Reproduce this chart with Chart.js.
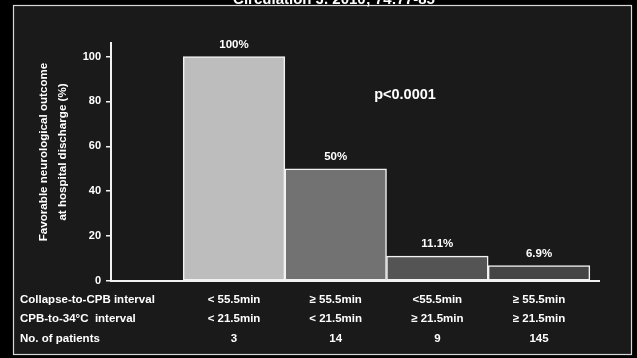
<!DOCTYPE html>
<html>
<head>
<meta charset="utf-8">
<title>Favorable neurological outcome</title>
<script src="https://cdn.jsdelivr.net/npm/chart.js@4/dist/chart.umd.min.js"></script>
<style>
  html, body { margin: 0; padding: 0; background: #000; }
  #wrap { width: 637px; height: 358px; }
</style>
</head>
<body>
<div id="wrap"><canvas id="outcome-chart" width="637" height="358"></canvas></div>
<script>
(function () {
  "use strict";

  var groups = [1, 2, 3, 4];
  var outcomePct = [100, 50, 11.1, 6.9];
  var pctLabels = ["100%", "50%", "11.1%", "6.9%"];
  var collapseRow = ["< 55.5min", "\u2265 55.5min", "<55.5min", "\u2265 55.5min"];
  var coolingRow = ["< 21.5min", "< 21.5min", "\u2265 21.5min", "\u2265 21.5min"];
  var patientsRow = ["3", "14", "9", "145"];
  var rowTitles = ["Collapse-to-CPB interval", "CPB-to-34\u00b0C  interval", "No. of patients"];
  var yTicks = [0, 20, 40, 60, 80, 100];
  var barColors = ["#bdbdbd", "#727272", "#545454", "#454545"];

  var FONT = "'Liberation Sans', Arial, sans-serif";

  var backdrop = {
    id: "backdrop",
    beforeDraw: function (chart) {
      var ctx = chart.ctx;
      ctx.save();
      ctx.fillStyle = "#000";
      ctx.fillRect(0, 0, chart.width, chart.height);
      ctx.fillStyle = "#1a1a1a";
      ctx.fillRect(13, 5, 619, 350);
      ctx.strokeStyle = "#d8d8d8";
      ctx.lineWidth = 1.2;
      ctx.strokeRect(13.5, 5.5, 618, 349);
      // journal citation, cut at the top edge
      ctx.fillStyle = "#fff";
      ctx.font = "bold 15px " + FONT;
      ctx.textAlign = "center";
      ctx.textBaseline = "alphabetic";
      ctx.fillText("Circulation J. 2010; 74:77-85", 334, 4);
      ctx.restore();
    },
  };

  var annotations = {
    id: "annotations",
    afterDraw: function (chart) {
      var ctx = chart.ctx;
      var x = chart.scales.x;
      var y = chart.scales.y;
      ctx.save();
      ctx.fillStyle = "#fff";
      ctx.textAlign = "center";
      ctx.textBaseline = "middle";
      ctx.font = "bold 11.5px " + FONT;
      for (var i = 0; i < groups.length; i++) {
        var cx = x.getPixelForValue(groups[i]);
        ctx.fillText(pctLabels[i], cx, y.getPixelForValue(outcomePct[i]) - 12);
        ctx.fillText(collapseRow[i], cx, 300);
        ctx.fillText(coolingRow[i], cx, 319);
        ctx.fillText(patientsRow[i], cx, 339);
      }
      ctx.textAlign = "left";
      ctx.fillText(rowTitles[0], 20, 300);
      ctx.fillText(rowTitles[1], 20, 319);
      ctx.fillText(rowTitles[2], 20, 339);

      ctx.textAlign = "center";
      ctx.font = "bold 14.5px " + FONT;
      ctx.fillText("p<0.0001", 405, 95);

      // rotated y title, two lines
      ctx.font = "bold 11.6px " + FONT;
      ctx.translate(53, 152);
      ctx.rotate(-Math.PI / 2);
      ctx.fillText("Favorable neurological outcome", 0, -9.5);
      ctx.fillText("at hospital discharge (%)", 0, 9.5);
      ctx.restore();
    },
  };

  new Chart(document.getElementById("outcome-chart"), {
    type: "bar",
    data: {
      datasets: [
        {
          data: groups.map(function (g, i) {
            return { x: g, y: outcomePct[i] };
          }),
          backgroundColor: barColors,
          borderColor: "#f2f2f2",
          borderWidth: 1.5,
          borderSkipped: false,
          barPercentage: 1,
          categoryPercentage: 1,
        },
      ],
    },
    options: {
      responsive: false,
      animation: false,
      events: [],
      layout: { padding: { top: 43, right: 38, left: 0, bottom: 0 } },
      plugins: {
        legend: { display: false },
        tooltip: { enabled: false },
      },
      scales: {
        x: {
          type: "linear",
          offset: false,
          min: -0.21,
          max: 4.59,
          afterBuildTicks: function (scale) {
            scale.ticks = groups.map(function (v) {
              return { value: v };
            });
          },
          grid: { display: false },
          ticks: { display: false },
          border: { color: "#f2f2f2", width: 2 },
          afterFit: function (scale) {
            scale.height = 77;
          },
        },
        y: {
          min: 0,
          max: 106,
          afterBuildTicks: function (scale) {
            scale.ticks = yTicks.map(function (v) {
              return { value: v };
            });
          },
          grid: {
            drawOnChartArea: false,
            color: "#f2f2f2",
            tickLength: 5,
            lineWidth: 1.5,
          },
          border: { color: "#f2f2f2", width: 2 },
          ticks: {
            color: "#fff",
            padding: 5,
            font: { family: FONT, size: 11, weight: "bold" },
          },
          afterFit: function (scale) {
            scale.width = 111;
          },
        },
      },
    },
    plugins: [backdrop, annotations],
  });
})();
</script>
</body>
</html>
